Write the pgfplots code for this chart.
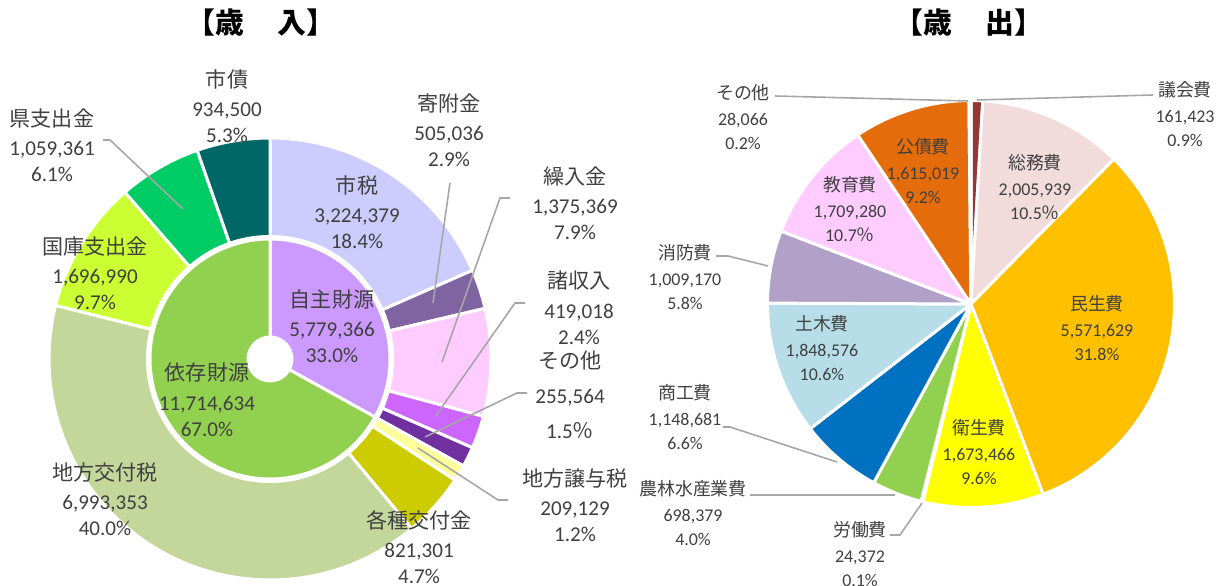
\documentclass[border=0pt]{standalone}
\usepackage{pgfplots}
\usepackage{pgfplotstable}
\pgfplotsset{compat=1.18}
\usepackage{fontspec}
\setmainfont{Carlito}
\newfontfamily\jp{Noto Sans CJK JP}

\definecolor{txt}{HTML}{404040}
\definecolor{lead}{HTML}{A6A6A6}
% revenue (outer ring)
\definecolor{cShizei}{HTML}{CCCCFF}
\definecolor{cKifu}{HTML}{8064A2}
\definecolor{cKurii}{HTML}{FFCCFF}
\definecolor{cShoshu}{HTML}{CC66FF}
\definecolor{cSonota}{HTML}{7030A0}
\definecolor{cJoyo}{HTML}{FFFF99}
\definecolor{cKakushu}{HTML}{CCCC00}
\definecolor{cKoufu}{HTML}{C4D79B}
\definecolor{cKokko}{HTML}{CCFF33}
\definecolor{cKen}{HTML}{00CC66}
\definecolor{cShisai}{HTML}{006666}
% revenue (inner)
\definecolor{cJishu}{HTML}{CC99FF}
\definecolor{cIzon}{HTML}{92D050}
% expenditure
\definecolor{eGikai}{HTML}{953735}
\definecolor{eSomu}{HTML}{F2DCDB}
\definecolor{eMinsei}{HTML}{FFC000}
\definecolor{eEisei}{HTML}{FFFF00}
\definecolor{eRodo}{HTML}{8EB4E3}
\definecolor{eNorin}{HTML}{92D050}
\definecolor{eShoko}{HTML}{0070C0}
\definecolor{eDoboku}{HTML}{B7DEE8}
\definecolor{eShobo}{HTML}{B1A0C7}
\definecolor{eKyoiku}{HTML}{FFCCFF}
\definecolor{eKosai}{HTML}{E46C0A}
\definecolor{eSonota}{HTML}{D9D9D9}

\pgfplotstableread{
value color
3224379 cShizei
505036 cKifu
1375369 cKurii
419018 cShoshu
255564 cSonota
209129 cJoyo
821301 cKakushu
6993353 cKoufu
1696990 cKokko
1059361 cKen
934500 cShisai
}\revenueouter

\pgfplotstableread{
value color
5779366 cJishu
11714634 cIzon
}\revenueinner

\pgfplotstableread{
value color
161423 eGikai
2005939 eSomu
5571629 eMinsei
1673466 eEisei
24372 eRodo
698379 eNorin
1148681 eShoko
1848576 eDoboku
1009170 eShobo
1709280 eKyoiku
1615019 eKosai
28066 eSonota
}\expend

% #1 table, #2 cx, #3 cy (axis units), #4 radius (mm), #5 border width
\newcommand\drawpie[5]{%
  \pgfplotstablegetrowsof{#1}%
  \pgfmathtruncatemacro\pielast{\pgfplotsretval-1}%
  \gdef\piecum{0}%
  \gdef\pietot{0}%
  \pgfplotsforeachungrouped \pieidx in {0,...,\pielast} {%
    \pgfplotstablegetelem{\pieidx}{value}\of{#1}%
    \xdef\pietot{\fpeval{\pietot+\pgfplotsretval}}%
  }%
  \pgfplotsforeachungrouped \pieidx in {0,...,\pielast} {%
    \pgfplotstablegetelem{\pieidx}{value}\of{#1}\let\pv\pgfplotsretval
    \pgfplotstablegetelem{\pieidx}{color}\of{#1}\let\pc\pgfplotsretval
    \edef\pa{\fpeval{round(90-360*\piecum/\pietot,4)}}%
    \xdef\piecum{\fpeval{\piecum+\pv}}%
    \edef\pb{\fpeval{round(90-360*\piecum/\pietot,4)}}%
    \fill[fill=\pc, draw=white, line width=#5, line join=round]
      (axis cs:#2,#3) -- ++(\pa:#4mm) arc[start angle=\pa, end angle=\pb, radius=#4mm] -- cycle;
  }%
}

\newcommand\Lf{\fontsize{6}{7.4}\selectfont}
\newcommand\Rf{\fontsize{5.1}{6.8}\selectfont}
\newcommand\lab[4][]{\node[align=center, text=txt, inner sep=0pt, #1] at (axis cs:#2,-#3) {#4};}

\begin{document}
\begin{tikzpicture}
\begin{axis}[
  x=0.1mm, y=0.1mm,
  xmin=0, xmax=1220, ymin=-586, ymax=0,
  hide axis, clip=false,
]
\pgfplotsextra{%
  \drawpie{\revenueouter}{270}{-359}{22.1}{0.3mm}%
  \fill[white] (axis cs:270,-359) circle[radius=12.4mm];%
  \drawpie{\revenueinner}{270}{-359}{12.0}{0.3mm}%
  \fill[white] (axis cs:270,-359) circle[radius=2.35mm];%
  \drawpie{\expend}{971}{-304}{20.35}{0.3mm}%
}

% leader lines (left)
\addplot[lead, line width=0.45pt, no marks] coordinates {(103,-140) (110,-140) (183,-209)};
\addplot[lead, line width=0.45pt, no marks] coordinates {(450,-183) (433,-303)};
\addplot[lead, line width=0.45pt, no marks] coordinates {(510,-198) (500,-198) (442,-362)};
\addplot[lead, line width=0.45pt, no marks] coordinates {(525,-303) (515,-303) (435,-417)};
\addplot[lead, line width=0.45pt, no marks] coordinates {(527,-393) (517,-393) (425,-437)};
\addplot[lead, line width=0.45pt, no marks] coordinates {(508,-500) (498,-500) (418,-448)};
% leader lines (right)
\addplot[lead, line width=0.45pt, no marks] coordinates {(775,-96) (968,-101)};
\addplot[lead, line width=0.45pt, no marks] coordinates {(1153,-95) (977,-100)};
\addplot[lead, line width=0.45pt, no marks] coordinates {(716,-256) (728,-256) (768,-266)};
\addplot[lead, line width=0.45pt, no marks] coordinates {(723,-427) (730,-427) (837,-462)};
\addplot[lead, line width=0.45pt, no marks] coordinates {(750,-495) (895,-495)};
\addplot[lead, line width=0.45pt, no marks] coordinates {(890,-535) (900,-535) (922,-503)};

% titles
\node[font=\fontsize{8.2}{9}\selectfont\jp\bfseries, inner sep=0pt] at (axis cs:261,-23) {【歳\hspace{0.15em}　入】};
\node[font=\fontsize{8.2}{9}\selectfont\jp\bfseries, inner sep=0pt] at (axis cs:969,-23) {【歳\hspace{0.15em}　出】};

% left labels
\lab[font=\Lf]{227}{106}{{\jp 市債}\\[1pt]934,500\\5.3\%}
\lab[font=\Lf]{52}{145}{{\jp 県支出金}\\[1pt]1,059,361\\6.1\%}
\lab[font=\Lf]{95}{273}{{\jp 国庫支出金}\\[1pt]1,696,990\\9.7\%}
\lab[font=\Lf]{357}{212}{{\jp 市税}\\[1pt]3,224,379\\18.4\%}
\lab[font=\Lf]{332}{326}{{\jp 自主財源}\\[1pt]5,779,366\\33.0\%}
\lab[font=\Lf]{207}{400}{{\jp 依存財源}\\[1pt]11,714,634\\67.0\%}
\lab[font=\Lf]{105}{499}{{\jp 地方交付税}\\[1pt]6,993,353\\40.0\%}
\lab[font=\Lf]{419}{547}{{\jp 各種交付金}\\[1pt]821,301\\4.7\%}
\lab[font=\Lf]{449}{130}{{\jp 寄附金}\\[1pt]505,036\\2.9\%}
\lab[font=\Lf]{575}{203}{{\jp 繰入金}\\[1pt]1,375,369\\7.9\%}
\lab[font=\Lf]{579}{308}{{\jp 諸収入}\\[1pt]419,018\\2.4\%}
\lab[font=\Lf]{570}{395}{{\jp その他}\\[2.5pt]255,564\\[2.5pt]1.5{\jp ％}}
\lab[font=\Lf]{575}{505}{{\jp 地方譲与税}\\[1pt]209,129\\1.2\%}

% right labels
\lab[font=\Rf]{743}{117}{{\jp その他}\\[0.8pt]28,066\\0.2\%}
\lab[font=\Rf]{1185}{114}{{\jp 議会費}\\[0.8pt]161,423\\0.9\%}
\lab[font=\Rf]{1035}{187}{{\jp 総務費}\\[0.8pt]2,005,939\\10.5{\jp ％}}
\lab[font=\Rf]{923}{171}{{\jp 公債費}\\[0.8pt]1,615,019\\9.2\%}
\lab[font=\Rf]{850}{209}{{\jp 教育費}\\[0.8pt]1,709,280\\10.7{\jp ％}}
\lab[font=\Rf]{685}{277}{{\jp 消防費}\\[0.8pt]1,009,170\\5.8\%}
\lab[font=\Rf]{1097}{328}{{\jp 民生費}\\[0.8pt]5,571,629\\31.8\%}
\lab[font=\Rf]{822}{348}{{\jp 土木費}\\[0.8pt]1,848,576\\10.6\%}
\lab[font=\Rf]{685}{417}{{\jp 商工費}\\[0.8pt]1,148,681\\6.6\%}
\lab[font=\Rf]{979}{452}{{\jp 衛生費}\\[0.8pt]1,673,466\\9.6\%}
\lab[font=\Rf]{693}{513}{{\jp 農林水産業費}\\[0.8pt]698,379\\4.0\%}
\lab[font=\Rf]{860}{554}{{\jp 労働費}\\[0.8pt]24,372\\0.1\%}

\coordinate (BL) at (rel axis cs:0,0);
\coordinate (TR) at (rel axis cs:1,1);
\end{axis}
\pgfresetboundingbox
\useasboundingbox (BL) rectangle (TR);
\end{tikzpicture}
\end{document}
